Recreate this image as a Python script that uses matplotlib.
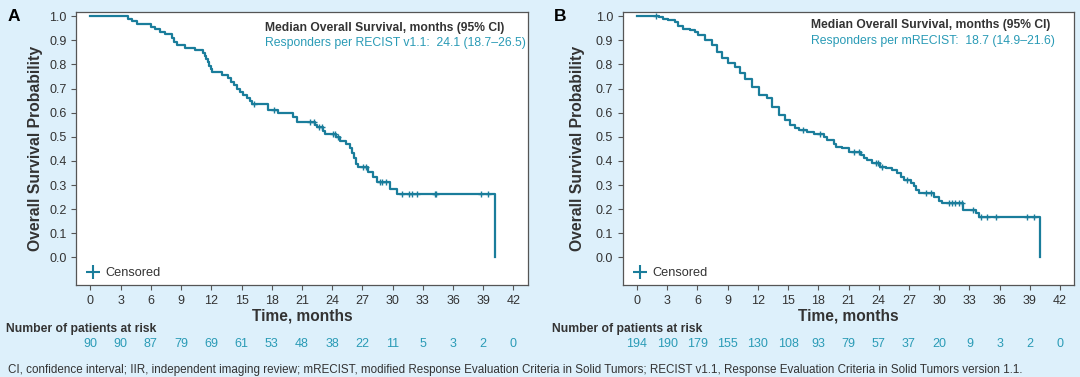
import numpy as np
import matplotlib
matplotlib.use('Agg')
import matplotlib.pyplot as plt
from matplotlib.lines import Line2D
from matplotlib.transforms import blended_transform_factory

plt.rcParams['font.family'] = ['Liberation Sans', 'DejaVu Sans']

# panel A: responders per RECIST v1.1 (step times in months, survival after step)
a_time = [0, 3.76, 4.10, 4.60, 6.02, 6.42, 6.91, 7.41, 8.07, 8.30, 8.57, 9.39, 10.39, 11.21,
          11.38, 11.52, 11.66, 11.80, 11.93, 12.05, 13.04, 13.69, 13.95, 14.25, 14.53, 14.85,
          15.18, 15.5, 15.8, 16.0, 17.67, 18.66, 20.15, 20.49, 22.3, 22.47, 23.07, 23.3, 24.35,
          24.79, 25.35, 25.78, 26.01, 26.18, 26.38, 26.6, 27.6, 28.09, 28.43, 29.75, 30.42, 40.15]
a_surv = [1.0, 0.990, 0.979, 0.967, 0.956, 0.945, 0.934, 0.924, 0.908, 0.893, 0.880, 0.869, 0.859, 0.848,
          0.836, 0.822, 0.808, 0.795, 0.782, 0.769, 0.755, 0.742, 0.728, 0.714, 0.700, 0.687,
          0.673, 0.660, 0.648, 0.634, 0.613, 0.599, 0.583, 0.562, 0.548, 0.539, 0.525, 0.511, 0.500,
          0.483, 0.470, 0.452, 0.431, 0.410, 0.389, 0.375, 0.355, 0.334, 0.313, 0.283, 0.261, 0.0]
a_cens = [16.2, 18.27, 21.8, 22.15, 22.73, 23.0, 24.06, 24.29, 24.53, 27.1, 27.37, 28.7, 28.9, 29.3,
          30.9, 31.6, 31.9, 32.4, 34.25, 34.35, 38.75, 39.47]
a_risk = [90, 90, 87, 79, 69, 61, 53, 48, 38, 22, 11, 5, 3, 2, 0]

# panel B: responders per mRECIST
b_time = [0, 2.2, 2.6, 3.11, 3.78, 4.11, 4.61, 5.27, 5.77, 6.1, 6.77, 7.43, 7.93, 8.43, 9.08, 9.75,
          10.25, 10.75, 11.41, 12.07, 12.9, 13.4, 14.06, 14.73, 15.22, 15.72, 16.12, 16.89, 17.54,
          18.54, 18.87, 19.53, 19.8, 20.37, 21.03, 22.19, 22.52, 22.85, 23.28, 24.11, 24.68, 25.34,
          25.84, 26.17, 26.5, 27.16, 27.49, 27.66, 27.99, 29.5, 29.98, 30.32, 32.37, 33.63, 33.96, 40.0]
b_surv = [1.0, 0.995, 0.990, 0.986, 0.976, 0.960, 0.946, 0.942, 0.935, 0.921, 0.901, 0.880, 0.852, 0.825,
          0.804, 0.790, 0.763, 0.738, 0.705, 0.673, 0.659, 0.624, 0.590, 0.569, 0.548, 0.535, 0.530,
          0.521, 0.510, 0.500, 0.486, 0.472, 0.458, 0.452, 0.438, 0.424, 0.413, 0.403, 0.390, 0.375,
          0.369, 0.362, 0.348, 0.334, 0.320, 0.307, 0.295, 0.279, 0.265, 0.252, 0.235, 0.224, 0.196,
          0.182, 0.168, 0.0]
b_cens = [1.85, 16.5, 18.2, 21.5, 22.0, 23.68, 23.91, 24.34, 26.83, 28.65, 29.15, 31.0, 31.3, 31.6,
          32.0, 32.3, 33.4, 34.13, 34.7, 35.67, 38.74, 39.4]
b_risk = [194, 190, 179, 155, 130, 108, 93, 79, 57, 37, 20, 9, 3, 2, 0]

risk_times = list(range(0, 43, 3))

labels_a = ['Median Overall Survival, months (95% CI)',
            'Responders per RECIST v1.1:  24.1 (18.7\u201326.5)']
labels_b = ['Median Overall Survival, months (95% CI)',
            'Responders per mRECIST:  18.7 (14.9\u201321.6)']

footnote = ('CI, confidence interval; IIR, independent imaging review; mRECIST, modified Response '
            'Evaluation Criteria in Solid Tumors; RECIST v1.1, Response Evaluation Criteria in Solid '
            'Tumors version 1.1.')

bg = '#ddf0fb'
line_c = '#1a7d9b'
risk_c = '#2a9bb6'
dark = '#333333'
frame = '#555555'

fig = plt.figure(figsize=(10.8, 3.77), dpi=100, facecolor=bg)


def km_panel(left, letter, t, s, cens, risk, labels, txt_y, title_x, ylab_x):
    ax = fig.add_axes([left, 0.243, 0.4178, 0.725])
    ax.set_facecolor('white')
    ax.step(t, s, where='post', color=line_c, lw=1.6)
    t_arr = np.array(t)
    idx = np.searchsorted(t_arr, cens, side='right') - 1
    ax.plot(cens, np.array(s)[idx], ls='none', marker='+', ms=5, mew=1.0, color=line_c)

    ax.set_xlim(-1.4, 43.4)
    ax.set_ylim(-0.116, 1.017)
    ax.set_xticks(risk_times)
    ax.set_yticks(np.arange(0, 1.01, 0.1))
    ax.set_yticklabels([f'{v:.1f}' for v in np.arange(0, 1.01, 0.1)])
    ax.tick_params(colors=frame, labelcolor=dark, labelsize=9, length=3.5, width=0.8)
    for sp in ax.spines.values():
        sp.set_color(frame)
        sp.set_linewidth(0.9)

    ax.set_ylabel('Overall Survival Probability', fontsize=11.3, fontweight='bold', color=dark)
    ax.yaxis.set_label_coords(ylab_x, 0.5)

    tr = blended_transform_factory(ax.transAxes, fig.transFigure)
    ax.text(0.5, 0.162, 'Time, months', transform=tr, ha='center', va='center',
            fontsize=11.2, fontweight='bold', color=dark)

    ax.text(17.3, txt_y[0], labels[0], fontsize=8.7, fontweight='bold', color=dark, va='center')
    ax.text(17.3, txt_y[1], labels[1], fontsize=8.8, color=risk_c, va='center')

    h = Line2D([], [], ls='none', marker='+', ms=10, mew=1.5, color=line_c)
    ax.legend([h], ['Censored'], loc='lower left', frameon=False, fontsize=9.2,
              handletextpad=0.2, borderaxespad=0.2, borderpad=0.3, labelcolor=dark,
              handlelength=1.6)

    trd = blended_transform_factory(ax.transData, fig.transFigure)
    for x, n in zip(risk_times, risk):
        ax.text(x, 0.0875, str(n), transform=trd, ha='center', va='center',
                fontsize=9, color=risk_c)
    fig.text(title_x, 0.127, 'Number of patients at risk', ha='left', va='center',
             fontsize=8.7, fontweight='bold', color=dark)
    fig.text(left - 0.058, 0.955, letter, ha='center', va='center',
             fontsize=12.5, fontweight='bold', color='black')
    return ax


km_panel(0.0707, 'A', a_time, a_surv, a_cens, a_risk, labels_a, (0.949, 0.887), 0.006, -0.074)
km_panel(0.5768, 'B', b_time, b_surv, b_cens, b_risk, labels_b, (0.963, 0.898), 0.511, -0.083)

fig.text(0.007, 0.018, footnote, ha='left', va='center', fontsize=8.4, color=dark)

fig.savefig('out.png', dpi=100, facecolor=bg)
